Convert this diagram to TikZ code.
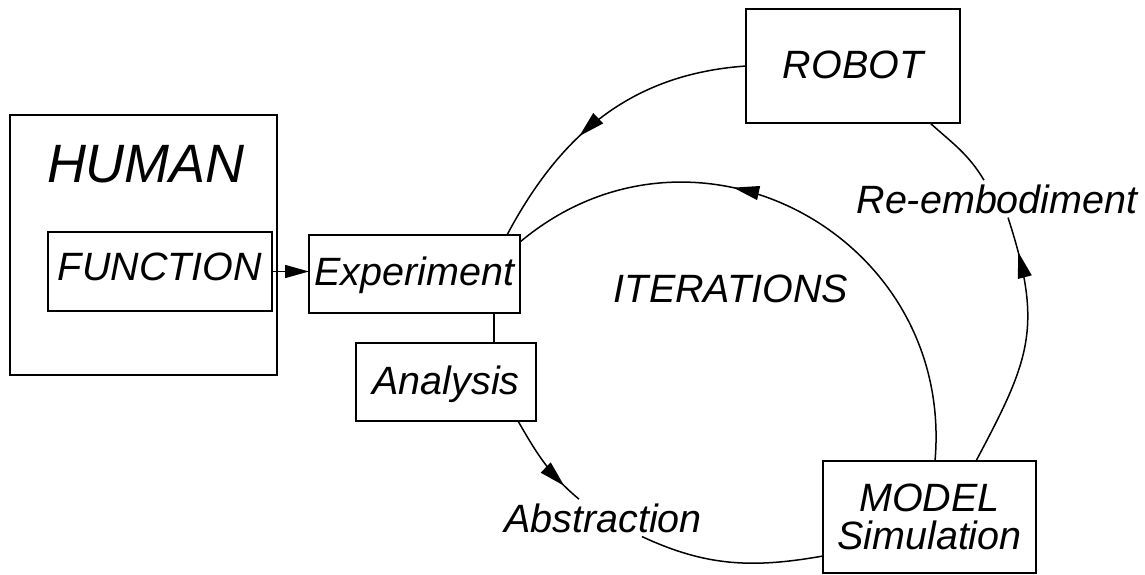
\documentclass[tikz,border=0pt]{standalone}
\usepackage{fontspec}
\setmainfont{Liberation Sans}
\usetikzlibrary{arrows.meta,calc,decorations.markings}
\begin{document}
\begin{tikzpicture}[x=1pt,y=-1pt,
  txt/.style={font=\fontsize{39.5}{38}\selectfont\itshape},
  box/.style={draw=black, line width=1.8pt, fill=white, inner sep=0pt, outer sep=0pt, txt, text height=28.3pt},
  lbl/.style={txt, inner sep=4pt, anchor=base},
  conn/.style={draw=black, line width=1.5pt},
  midarrow/.style={postaction={decorate}, decoration={markings, mark=at position #1 with {\arrow{Triangle[length=26pt,width=14pt]}}}}
]
\useasboundingbox (0,0) rectangle (1145,575);
% boxes
\node[box, minimum width=267pt, minimum height=260pt] (human) at (143.5,245) {};
\node[txt, font=\fontsize{54}{54}\selectfont\itshape, anchor=base, inner sep=0pt] (humantxt) at (146,182) {HUMAN};
\node[box, minimum width=224pt, minimum height=79pt, text depth=11.3pt] (function) at (160,271.5) {FUNCTION};
\node[box, minimum width=211pt, minimum height=78pt, text depth=6.3pt] (experiment) at (414.5,274) {Experiment};
\node[box, minimum width=180pt, minimum height=78pt, text depth=3.3pt] (analysis) at (446,382) {Analysis};
\node[box, minimum width=214pt, minimum height=114pt, text depth=2.3pt] (robot) at (853,66) {ROBOT};
\node[draw=black, line width=1.8pt, fill=white, inner sep=0pt, outer sep=0pt, txt, minimum width=213pt, minimum height=112pt, align=center] (model) at (929.5,517) {MODEL\\Simulation};
% labels
\node[lbl] (abstr) at (603,532) {Abstraction};
\node[lbl] (reemb) at (997,213) {Re-embodiment};
\node[lbl] (iter) at (731,302) {ITERATIONS};
% connectors
\draw[conn, -{Triangle[length=24pt,width=13pt]}] (function.east) -- (function.east -| experiment.west);
\draw[conn, midarrow=0.6] (robot.west) to[out=184,in=62] ($(experiment.north east)+(-13,0)$);
\draw[conn] ($(experiment.south east)+(-26,0)$) -- ($(analysis.north east)+(-42,0)$);
\draw[conn, midarrow=0.8] ($(analysis.south east)+(-18,0)$) to[out=300,in=140] ($(abstr.north)+(-24,0)$);
\draw[conn] ($(abstr.south)+(39,0)$) to[out=335,in=190] ($(model.south west)+(0,-17)$);
\draw[conn, midarrow=0.86] ($(model.north)+(46.5,0)$) to[out=62,in=288,looseness=1.2] ($(reemb.south)+(11,0)$);
\draw[conn] ($(reemb.north)+(-13,0)$) to[out=121,in=318] ($(robot.south east)+(-30,0)$);
\draw[conn, midarrow=0.62] ($(model.north)+(5.5,0)$) .. controls +(19.8,-226.1) and +(173.9,-145.9) .. ($(experiment.north east)+(0,7)$);
\end{tikzpicture}
\end{document}
